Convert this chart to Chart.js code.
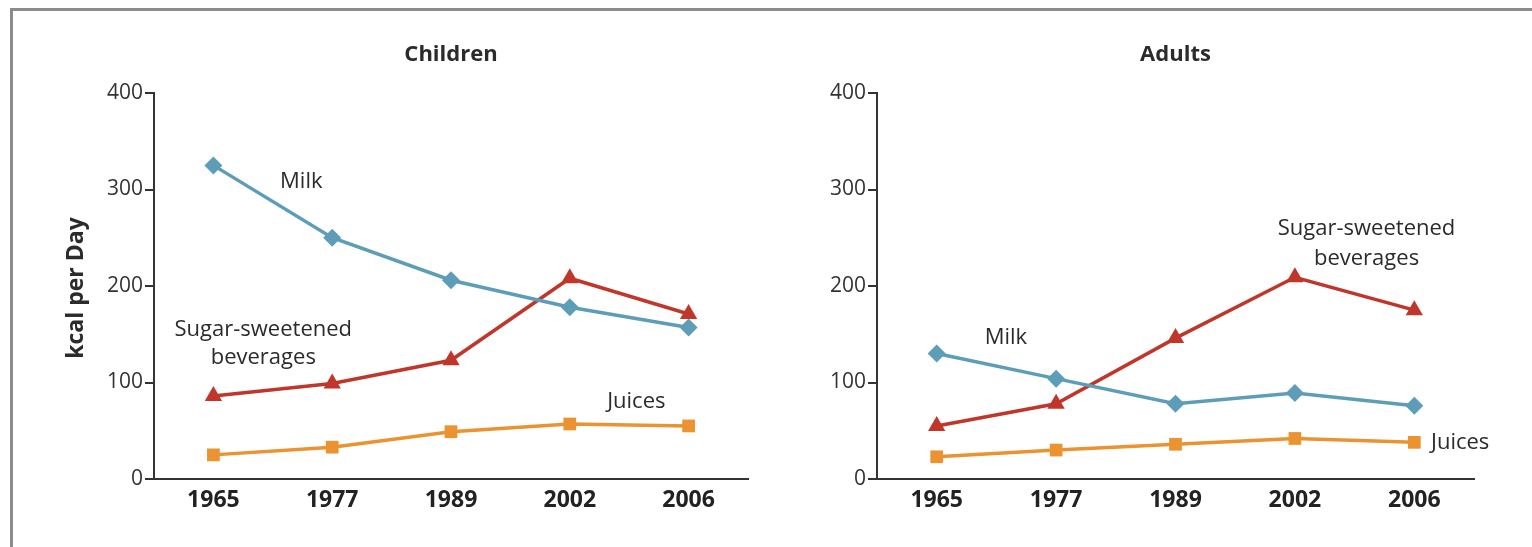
<!DOCTYPE html>
<html>
<head>
<meta charset="utf-8">
<script src="https://cdn.jsdelivr.net/npm/chart.js@4.4.1/dist/chart.umd.min.js"></script>
<style>
  html, body { margin: 0; padding: 0; background: #fff; }
  #frame {
    position: absolute; left: 10px; top: 8px; width: 1530px; height: 547px;
    border-top: 3px solid #8c8c8c; border-left: 3px solid #8c8c8c;
  }
  .panel { position: absolute; top: 0; width: 766px; height: 547px; }
  #kidsBox { left: 0; }
  #adultsBox { left: 766px; }
</style>
</head>
<body>
<div id="frame"></div>
<div class="panel" id="kidsBox"><canvas id="kidsChart"></canvas></div>
<div class="panel" id="adultsBox"><canvas id="adultsChart"></canvas></div>
<script>
const years = ["1965", "1977", "1989", "2002", "2006"];
const yTicks = [0, 100, 200, 300, 400];

const kidsMilk = [325, 250, 206, 178, 157];
const kidsSugar = [86, 99, 123, 208, 171];
const kidsJuices = [25, 33, 49, 57, 55];

const adultsMilk = [130, 104, 78, 89, 76];
const adultsSugar = [55, 78, 146, 209, 175];
const adultsJuices = [23, 30, 36, 42, 38];

const blue = "#5d9db8";
const red = "#c0362a";
const orange = "#ea9330";
const textColor = "#2b2b2b";
const fontFamily = "'Open Sans', sans-serif";

// text labels placed in data units (category index, kcal)
const kidsNotes = [
  { text: "Milk", x: 0.74, y: 308, align: "center" },
  { text: "Sugar-sweetened", x: 0.42, y: 155, align: "center" },
  { text: "beverages", x: 0.42, y: 126, align: "center" },
  { text: "Juices", x: 3.56, y: 80, align: "center" }
];
const adultsNotes = [
  { text: "Milk", x: 0.58, y: 146, align: "center" },
  { text: "Sugar-sweetened", x: 3.6, y: 259, align: "center" },
  { text: "beverages", x: 3.6, y: 228, align: "center" },
  { text: "Juices", x: 4.14, y: 38, align: "left" }
];

const notesPlugin = {
  id: "notes",
  afterDraw(chart, args, opts) {
    const ctx = chart.ctx;
    const xs = chart.scales.x, ys = chart.scales.y;
    const area = chart.chartArea;
    ctx.save();
    ctx.fillStyle = textColor;
    ctx.textBaseline = "middle";
    ctx.font = "22px " + fontFamily;
    opts.notes.forEach(n => {
      const px = xs.left + (n.x + 0.5) * (xs.width / years.length);
      ctx.textAlign = n.align;
      ctx.fillText(n.text, px, ys.getPixelForValue(n.y));
    });
    ctx.font = "bold 22px " + fontFamily;
    ctx.textAlign = "center";
    ctx.fillText(opts.title, (area.left + area.right) / 2, 55);
    if (opts.yTitle) {
      ctx.font = "bold 23px " + fontFamily;
      ctx.translate(76, (area.top + area.bottom) / 2 + 2);
      ctx.rotate(-Math.PI / 2);
      ctx.fillText(opts.yTitle, 0, 0);
    }
    ctx.restore();
  }
};

function makeChart(id, milk, sugar, juices, notes, title, yTitle, leftPad, rightPad) {
  const line = (label, data, color, style) => ({
    label, data,
    borderColor: color, backgroundColor: color,
    borderWidth: 3.5, pointStyle: style,
    pointRadius: style === "triangle" ? 10 : 9,
    pointBorderWidth: 0, tension: 0
  });
  return new Chart(document.getElementById(id), {
    type: "line",
    data: {
      labels: years,
      datasets: [
        line("Juices", juices, orange, "rect"),
        line("Milk", milk, blue, "rectRot"),
        line("Sugar-sweetened beverages", sugar, red, "triangle")
      ]
    },
    options: {
      responsive: true,
      maintainAspectRatio: false,
      animation: false,
      layout: { padding: { top: 93, left: leftPad, right: rightPad, bottom: 20 } },
      plugins: {
        legend: { display: false },
        tooltip: { enabled: false },
        notes: { notes, title, yTitle }
      },
      scales: {
        x: {
          offset: true,
          grid: { display: false, drawTicks: false },
          border: { color: "#333", width: 2 },
          ticks: { color: "#222", font: { family: fontFamily, size: 23, weight: "bold" }, padding: 8 },
          afterFit: s => { s.height = 48; }
        },
        y: {
          min: 0, max: 400,
          afterBuildTicks: s => { s.ticks = yTicks.map(v => ({ value: v })); },
          grid: { drawOnChartArea: false, drawTicks: true, tickLength: 9, color: "#333", lineWidth: 2 },
          border: { color: "#333", width: 2 },
          ticks: { color: "#333", font: { family: fontFamily, size: 21 }, padding: 2 },
          afterFit: s => { s.width = 80; }
        }
      }
    },
    plugins: [notesPlugin]
  });
}

makeChart("kidsChart", kidsMilk, kidsSugar, kidsJuices, kidsNotes, "Children", "kcal per Day", 74, 18);
makeChart("adultsChart", adultsMilk, adultsSugar, adultsJuices, adultsNotes, "Adults", null, 31, 58);
</script>
</body>
</html>
